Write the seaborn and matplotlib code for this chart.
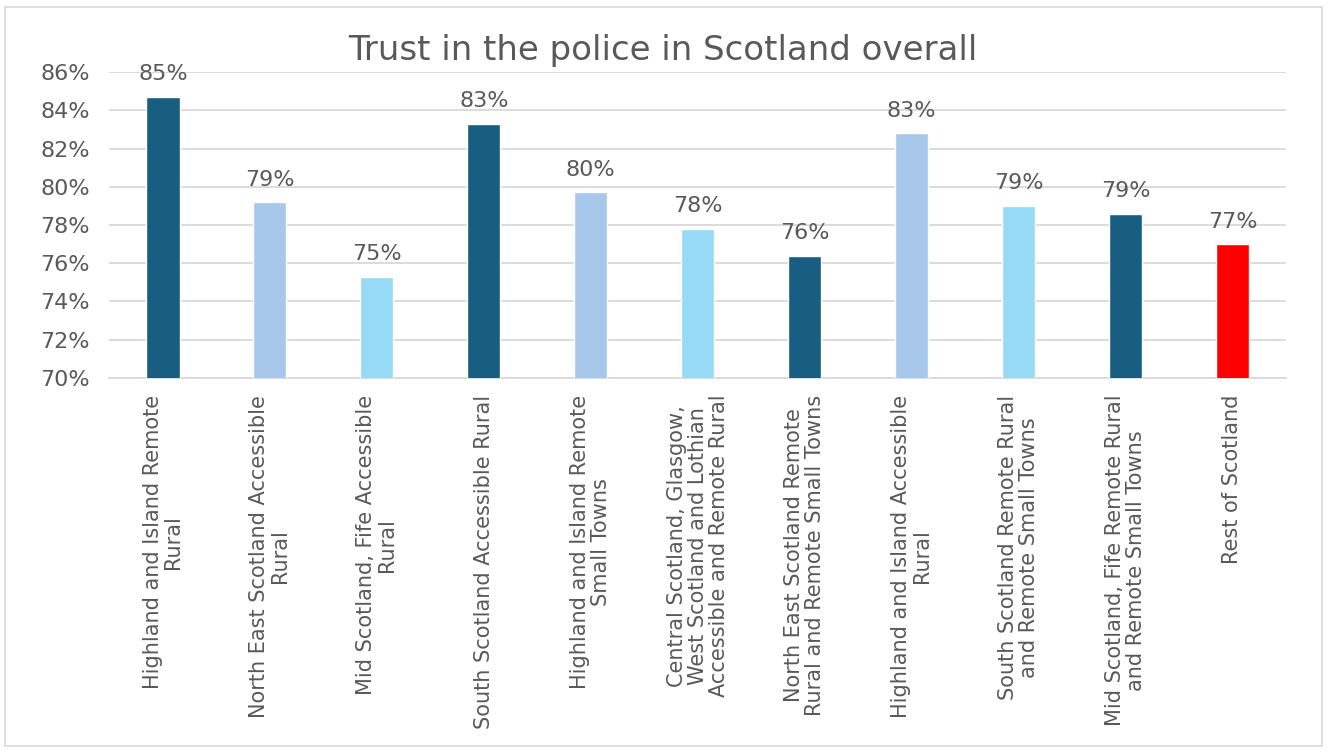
import matplotlib
matplotlib.use("Agg")
import matplotlib.pyplot as plt
import seaborn as sns
from matplotlib.patches import Rectangle

categories = [
    "Highland and Island Remote\nRural",
    "North East Scotland Accessible\nRural",
    "Mid Scotland, Fife Accessible\nRural",
    "South Scotland Accessible Rural",
    "Highland and Island Remote\nSmall Towns",
    "Central Scotland, Glasgow,\nWest Scotland and Lothian\nAccessible and Remote Rural",
    "North East Scotland Remote\nRural and Remote Small Towns",
    "Highland and Island Accessible\nRural",
    "South Scotland Remote Rural\nand Remote Small Towns",
    "Mid Scotland, Fife Remote Rural\nand Remote Small Towns",
    "Rest of Scotland",
]
values = [84.7, 79.2, 75.3, 83.3, 79.7, 77.8, 76.4, 82.8, 79.0, 78.6, 77.0]
bar_colors = ["#175E80", "#A7C8EA", "#97DAF6", "#175E80", "#A7C8EA", "#97DAF6",
              "#175E80", "#A7C8EA", "#97DAF6", "#175E80", "#FF0000"]
y_ticks = [70, 72, 74, 76, 78, 80, 82, 84, 86]
title = "Trust in the police in Scotland overall"

sns.set_theme(style="white")
plt.rcParams["font.family"] = ["DejaVu Sans"]
text_color = "#595959"
grid_color = "#D9D9D9"

fig = plt.figure(figsize=(13.3, 7.51), dpi=100)
ax = fig.add_axes([0.0823, 0.4967, 0.8846, 0.4074])

sns.barplot(x=categories, y=values, hue=categories, palette=bar_colors,
            legend=False, width=0.31, saturation=1, ax=ax, zorder=3)

ax.set_ylim(70, 86)
ax.set_xlim(-0.5, len(categories) - 0.5)
ax.set_yticks(y_ticks)
ax.set_yticklabels([f"{t}%" for t in y_ticks], color=text_color, fontsize=16)
ax.yaxis.grid(True, color=grid_color, linewidth=1.3, zorder=0)
ax.tick_params(axis="y", length=0, pad=14)
ax.tick_params(axis="x", length=0, pad=12)
ax.set_xlabel("")
ax.set_ylabel("")
for side in ["top", "right", "left"]:
    ax.spines[side].set_visible(False)
ax.spines["bottom"].set_color(grid_color)
ax.spines["bottom"].set_linewidth(1.3)

for lbl in ax.get_xticklabels():
    lbl.set_rotation(90)
    lbl.set_ha("center")
    lbl.set_va("top")
    lbl.set_multialignment("center")
    lbl.set_fontsize(15)
    lbl.set_linespacing(1.05)
    lbl.set_color(text_color)

for container, v in zip(ax.containers, values):
    ax.bar_label(container, labels=[f"{v:.0f}%"], padding=9,
                 fontsize=16, color=text_color)

fig.text(0.498, 1 - 60 / 751, title, ha="center", va="baseline",
         fontsize=24.5, color=text_color)

fig.patches.append(Rectangle((5 / 1330, 1 - 746 / 751), 1317 / 1330, 739 / 751,
                             transform=fig.transFigure, fill=False,
                             edgecolor="#D9D9D9", linewidth=1.2))

fig.savefig("out.png", dpi=100)
